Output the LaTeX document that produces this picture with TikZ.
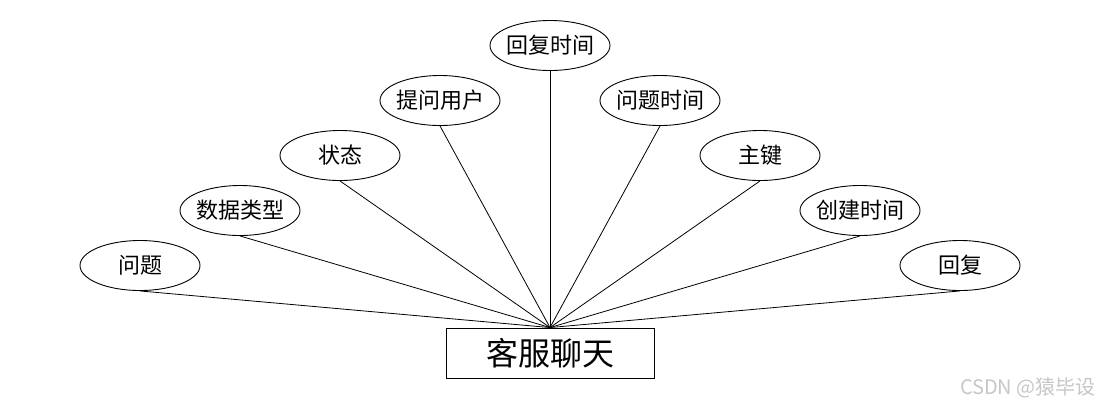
\documentclass[tikz,border=0pt]{standalone}
\usepackage{fontspec}
\setmainfont{Noto Sans CJK SC}
\usetikzlibrary{shapes.geometric}
\begin{document}
\begin{tikzpicture}[x=1pt,y=-1pt,
  attr/.style={draw,ellipse,minimum width=120pt,minimum height=50pt,inner xsep=-12pt,inner ysep=0pt,font=\fontsize{22}{24}\selectfont,line width=0.9pt},
  ent/.style={draw,rectangle,minimum width=208pt,minimum height=50pt,inner sep=0pt,font=\fontsize{32}{36}\selectfont,line width=0.9pt},
  link/.style={line width=0.8pt}]
\useasboundingbox[fill=white] (0,0) rectangle (1100,408);
\node[ent] (e) at (550,353) {客服聊天};
\node[attr] (a1) at (140,265.5) {问题};
\node[attr] (a2) at (240,210.5) {数据类型};
\node[attr] (a3) at (340,155.5) {状态};
\node[attr] (a4) at (440,100.5) {提问用户};
\node[attr] (a5) at (550,45.5) {回复时间};
\node[attr] (a6) at (660,100.5) {问题时间};
\node[attr] (a7) at (760,155.5) {主键};
\node[attr] (a8) at (860,210.5) {创建时间};
\node[attr] (a9) at (960,265.5) {回复};
\foreach \i in {1,...,9} \draw[link] (a\i.south) -- (e.north);
\node[text=black!22,font=\fontsize{20}{22}\selectfont,anchor=east,inner sep=0pt] (wm) at (1096,388) {CSDN @猿毕设};
\end{tikzpicture}
\end{document}
